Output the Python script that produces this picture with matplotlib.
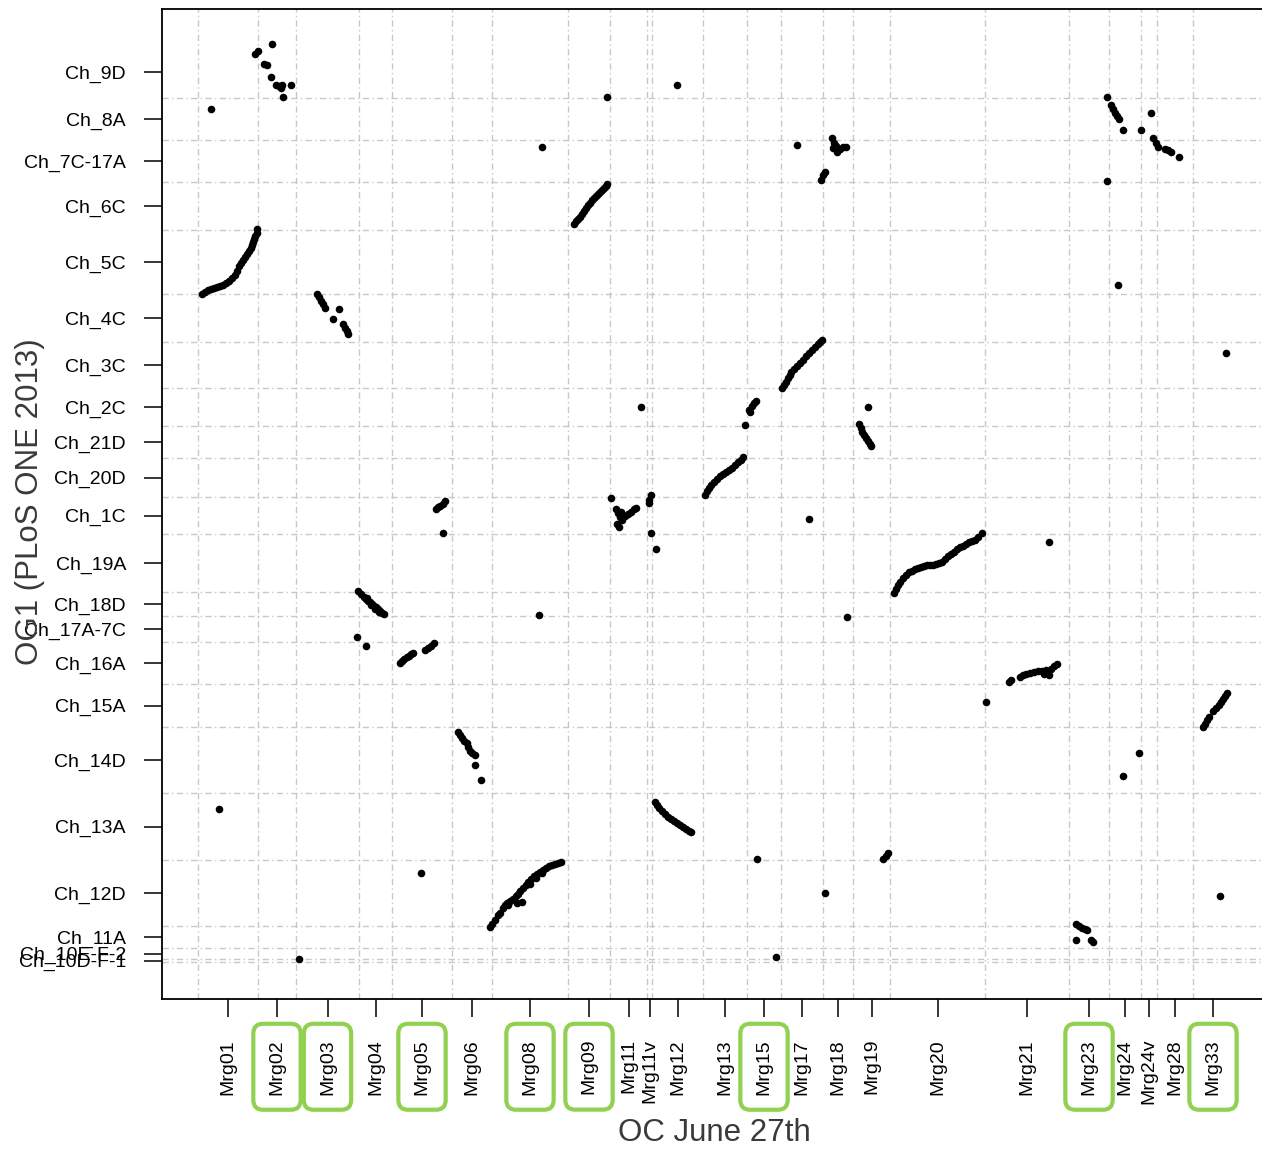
import matplotlib
matplotlib.use("Agg")
import matplotlib.pyplot as plt

plt.rcParams['font.family'] = ['Liberation Sans', 'DejaVu Sans']

# Query contigs (x axis): names and start offsets, last value closes the final contig
mrg_names = ["Mrg01", "Mrg02", "Mrg03", "Mrg04", "Mrg05", "Mrg06", "Mrg08", "Mrg09",
             "Mrg11", "Mrg11v", "Mrg12", "Mrg13", "Mrg15", "Mrg17", "Mrg18", "Mrg19",
             "Mrg20", "Mrg21", "Mrg23", "Mrg24", "Mrg24v", "Mrg28", "Mrg33"]
mrg_starts = [0, 60, 98, 161, 194, 254, 294, 370, 412, 449, 454, 505, 549, 583,
              625, 655, 692, 787, 871, 911, 943, 959, 995]
mrg_total = 1035

# Reference chromosomes (y axis), sorted by name from the bottom up
chr_names = ["Ch_10D-F-1", "Ch_10E-F-2", "Ch_11A", "Ch_12D", "Ch_13A", "Ch_14D",
             "Ch_15A", "Ch_16A", "Ch_17A-7C", "Ch_18D", "Ch_19A", "Ch_1C", "Ch_20D",
             "Ch_21D", "Ch_2C", "Ch_3C", "Ch_4C", "Ch_5C", "Ch_6C", "Ch_7C-17A",
             "Ch_8A", "Ch_9D"]
chr_starts = [0, 3, 14, 36, 102, 169, 235, 278, 320, 346, 370, 428, 465, 504,
              536, 574, 620, 668, 732, 780, 822, 864]
chr_total = 916

# Contig labels framed on the axis
framed = ["Mrg02", "Mrg03", "Mrg05", "Mrg08", "Mrg09", "Mrg15", "Mrg23", "Mrg33"]

# Marker hits (query position, reference position), grouped by contig
hits_mrg01 = [(13, 853), (21, 153),
              (4, 668), (7, 670), (10, 672), (13, 673), (16, 674), (19, 675), (22, 676),
              (25, 677), (28, 679), (31, 681), (34, 684), (37, 687), (39, 691), (41, 696),
              (43, 699), (45, 702), (47, 705), (49, 708), (51, 711), (53, 714), (54, 717),
              (55, 720), (56, 723), (57, 726), (59, 729), (59, 733)]
hits_mrg02 = [(57, 908), (60, 911), (74, 918), (66, 898), (69, 897), (73, 885), (78, 877),
              (81, 876), (84, 877), (83, 874), (93, 877), (85, 865), (101, 3)]
hits_mrg03 = [(119, 668), (121, 665), (123, 661), (125, 658), (127, 654), (135, 643),
              (141, 653), (145, 638), (147, 634), (149, 631), (150, 628)]
hits_mrg04 = [(160, 371), (163, 368), (166, 365), (168, 363), (170, 361), (172, 360),
              (174, 358), (176, 356), (178, 355), (180, 353), (182, 351), (184, 349),
              (186, 348), (169, 364), (173, 357), (177, 353), (181, 350),
              (159, 325), (168, 316)]
hits_mrg05 = [(238, 453), (240, 455), (242, 456), (245, 458), (247, 461), (245, 429),
              (202, 299), (204, 301), (206, 303), (209, 305), (211, 306), (213, 308),
              (215, 309), (227, 312), (230, 314), (233, 316), (236, 319), (223, 89)]
hits_mrg06 = [(260, 230), (262, 227), (264, 224), (266, 221), (269, 219), (270, 215),
              (272, 211), (274, 209), (277, 207), (277, 197), (283, 182)]
hits_mrg08 = [(344, 815), (341, 347),
              (292, 35), (294, 38), (297, 42), (300, 47), (302, 49), (305, 54), (307, 57),
              (309, 59), (312, 61), (315, 63), (318, 66), (320, 68), (322, 71), (325, 74),
              (328, 77), (330, 80), (333, 83), (336, 86), (339, 88), (342, 90), (345, 92),
              (348, 94), (351, 96), (354, 97), (357, 98), (360, 99), (363, 100),
              (319, 59), (324, 60), (310, 57), (332, 78), (338, 84), (344, 89)]
hits_mrg09 = [(409, 865),
              (376, 738), (378, 741), (380, 743), (382, 745), (384, 748), (386, 751),
              (388, 754), (390, 757), (392, 759), (394, 762), (396, 764), (398, 766),
              (400, 768), (402, 770), (404, 772), (406, 774), (408, 776), (409, 778)]
hits_mrg11 = [(413, 464), (418, 453), (420, 449), (422, 445), (419, 438), (421, 435),
              (424, 442), (427, 446), (430, 448), (433, 450), (436, 453), (438, 454),
              (423, 450), (443, 555)]
hits_mrg11v = [(453, 467), (451, 462), (451, 459), (453, 429), (458, 413)]
hits_mrg12 = [(479, 877),
              (457, 160), (459, 157), (461, 154), (464, 151), (467, 148), (470, 145),
              (473, 143), (476, 141), (479, 139), (482, 137), (485, 135), (488, 133),
              (491, 131), (493, 130)]
hits_mrg13 = [(507, 467), (509, 471), (511, 474), (513, 477), (516, 480), (519, 483),
              (522, 486), (525, 488), (528, 490), (531, 492), (534, 494), (537, 497),
              (540, 500), (543, 502), (545, 505)]
hits_mrg15 = [(554, 556), (556, 559), (558, 561), (552, 550), (551, 552), (547, 537),
              (559, 103), (578, 5)]
hits_mrg17 = [(599, 817), (634, 824), (636, 819), (635, 814), (639, 810), (642, 813),
              (645, 815), (648, 815), (638, 816), (625, 787), (627, 790), (623, 782),
              (584, 574), (586, 577), (588, 580), (590, 584), (592, 587), (593, 590),
              (596, 593), (599, 596), (602, 599), (605, 602), (608, 606), (611, 609),
              (614, 612), (617, 615), (620, 618), (622, 620), (624, 622),
              (611, 443), (627, 69)]
hits_mrg18 = [(649, 345)]
hits_mrg19 = [(670, 555), (661, 538), (663, 534), (664, 530), (666, 527), (668, 524),
              (670, 521), (672, 518), (673, 516), (685, 103), (688, 106), (690, 109)]
hits_mrg20 = [(696, 369), (698, 373), (700, 377), (702, 380), (705, 384), (708, 387),
              (711, 390), (714, 391), (717, 393), (720, 394), (723, 395), (726, 396),
              (729, 397), (732, 397), (735, 397), (738, 398), (741, 399), (744, 400),
              (747, 403), (750, 406), (753, 408), (756, 410), (759, 413), (762, 415),
              (765, 416), (768, 418), (771, 420), (774, 421), (777, 422), (780, 425),
              (784, 429)]
hits_mrg21 = [(851, 420), (788, 260),
              (811, 280), (813, 282), (822, 285), (825, 287), (828, 288), (832, 289),
              (836, 290), (840, 291), (844, 291), (848, 292), (851, 287), (853, 293),
              (856, 296), (859, 298), (846, 288)]
hits_mrg23 = [(909, 781), (920, 677),
              (909, 865), (913, 857), (915, 853), (917, 849), (919, 846), (921, 843),
              (878, 38), (881, 36), (884, 34), (887, 33), (889, 32), (878, 22),
              (893, 22), (895, 20)]
hits_mrg24 = [(925, 832), (941, 209), (925, 186), (943, 832), (953, 849)]
hits_mrg28 = [(955, 824), (958, 819), (960, 815), (967, 813), (970, 812), (973, 810),
              (981, 805)]
hits_mrg33 = [(1028, 609), (1022, 66),
              (1005, 235), (1007, 238), (1009, 242), (1011, 245), (1015, 251),
              (1018, 254), (1021, 257), (1023, 260), (1025, 263), (1027, 266), (1029, 269)]

hit_groups = [hits_mrg01, hits_mrg02, hits_mrg03, hits_mrg04, hits_mrg05, hits_mrg06,
              hits_mrg08, hits_mrg09, hits_mrg11, hits_mrg11v, hits_mrg12, hits_mrg13,
              hits_mrg15, hits_mrg17, hits_mrg18, hits_mrg19, hits_mrg20, hits_mrg21,
              hits_mrg23, hits_mrg24, hits_mrg28, hits_mrg33]

W, H = 1262, 1151
fig = plt.figure(figsize=(W / 100, H / 100), dpi=100)

x_pad = 36
x_lo, x_hi = -x_pad, mrg_total + 41
y_pad = 0.04 * chr_total
y_lo, y_hi = -y_pad, chr_total + y_pad

left_px, top_px = 162, 9.4
ax = fig.add_axes([left_px / W, 1 - (top_px + (y_hi - y_lo)) / H,
                   (x_hi - x_lo) / W, (y_hi - y_lo) / H])
ax.set_xlim(x_lo, x_hi)
ax.set_ylim(y_lo, y_hi)

grid_kw = dict(color='#c8c8c8', lw=1.0, linestyle=(0, (4.5, 2.4, 1.0, 2.4)), zorder=1)
for xs in mrg_starts:
    ax.axvline(xs, **grid_kw)
for ys in chr_starts:
    ax.axhline(ys, **grid_kw)

for grp in hit_groups:
    gx = [p[0] for p in grp]
    gy = [p[1] for p in grp]
    ax.scatter(gx, gy, s=30, c='black', linewidths=0, zorder=3)

tick_fs = 14
mrg_ends = mrg_starts[1:] + [mrg_total]
chr_ends = chr_starts[1:] + [chr_total]
ax.set_xticks([(a + b) / 2 for a, b in zip(mrg_starts, mrg_ends)])
ax.set_xticklabels(mrg_names, rotation=90, fontsize=tick_fs)
ax.set_yticks([(a + b) / 2 for a, b in zip(chr_starts, chr_ends)])
ax.set_yticklabels(chr_names, fontsize=tick_fs)
ax.tick_params(axis='both', length=13, width=1.1, color='black', direction='out')
ax.tick_params(axis='x', pad=16)
ax.tick_params(axis='y', pad=13)

for lab in ax.get_xticklabels():
    if lab.get_text() in framed:
        lab.set_bbox(dict(boxstyle='round,pad=0.78,rounding_size=0.5', fc='none',
                          ec='#92d050', lw=3))

for side in ['left', 'bottom', 'top']:
    ax.spines[side].set_linewidth(1.3)
ax.spines['right'].set_visible(False)

fig.text(30 / W, 1 - 502 / H, "OG1 (PLoS ONE 2013)", rotation=90, ha='center',
         va='center', fontsize=22.5, color='#3a3a3a')
fig.text(714 / W, 1 - 1133 / H, "OC June 27th", ha='center', va='center',
         fontsize=22.5, color='#3a3a3a')

fig.savefig("out.png", dpi=100)
